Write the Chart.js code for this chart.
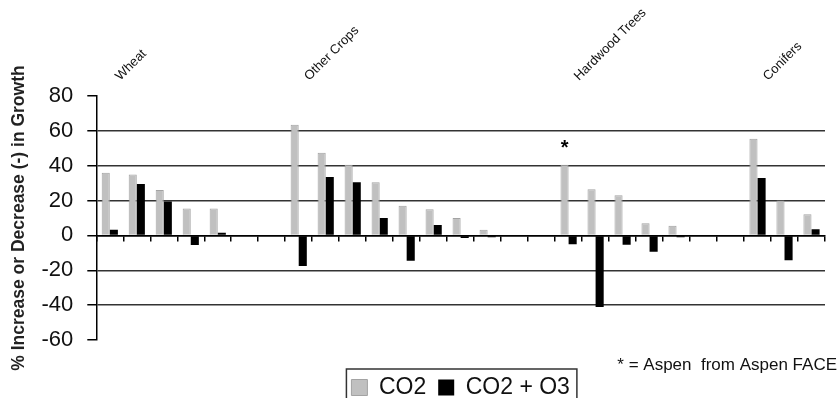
<!DOCTYPE html>
<html>
<head>
<meta charset="utf-8">
<script src="https://cdn.jsdelivr.net/npm/chart.js@4.4.1/dist/chart.umd.min.js"></script>
<style>
  html, body { margin: 0; padding: 0; background: #fff; }
  #wrap { width: 839px; height: 398px; }
</style>
</head>
<body>
<div id="wrap"><canvas id="growthChart" width="839" height="398"></canvas></div>
<script>
// one slot per study, gaps between the groups
const categories = [
    'Wheat 1', 'Wheat 2', 'Wheat 3', 'Wheat 4', 'Wheat 5', '', '',
    'Crop 1', 'Crop 2', 'Crop 3', 'Crop 4', 'Crop 5', 'Crop 6', 'Crop 7', 'Crop 8', '', '',
    'Aspen', 'Hardwood 2', 'Hardwood 3', 'Hardwood 4', 'Hardwood 5', '', '',
    'Conifer 1', 'Conifer 2', 'Conifer 3'
];
const groupLabels = [
    'Wheat', '', '', '', '', '', '',
    'Other Crops', '', '', '', '', '', '', '', '', '',
    'Hardwood Trees', '', '', '', '', '', '',
    'Conifers', '', ''
];
const co2 = [36, 35, 26, 15.5, 15.5, null, null,
    63.5, 47.5, 40.5, 30.5, 17, 15, 10, 3.2, null, null,
    40.5, 26.5, 23, 7, 5.5, null, null,
    55.5, 20, 12.2];
const co2o3 = [3.3, 29.5, 19.5, -5.5, 1.5, null, null,
    -17.5, 33.5, 30.5, 10, -14.5, 6, -1.5, -1, null, null,
    -5, -41, -5.3, -9.3, -1, null, null,
    33, -14.2, 3.5];
const yTicks = [-60, -40, -20, 0, 20, 40, 60, 80];
const starred = ['Aspen'];
const footnote = '* = Aspen  from Aspen FACE';

const FONT = 'Arial, "Liberation Sans", sans-serif';

// asterisk over the starred bar, footnote, and the frame round the legend
const extras = {
    id: 'extras',
    afterDraw(chart) {
        const ctx = chart.ctx;
        ctx.save();
        const meta = chart.getDatasetMeta(0);
        ctx.fillStyle = '#000';
        ctx.font = 'bold 20px ' + FONT;
        ctx.textAlign = 'center';
        ctx.textBaseline = 'middle';
        starred.forEach(name => {
            const bar = meta.data[categories.indexOf(name)];
            if (bar) ctx.fillText('*', bar.x, bar.y - 16);
        });

        ctx.font = '17px ' + FONT;
        ctx.textAlign = 'right';
        ctx.fillStyle = '#111';
        ctx.fillText(footnote, chart.width - 2, 365);

        const boxes = chart.legend.legendHitBoxes;
        if (boxes && boxes.length) {
            const first = boxes[0], last = boxes[boxes.length - 1];
            ctx.strokeStyle = '#333';
            ctx.lineWidth = 1.5;
            ctx.strokeRect(first.left - 5, first.top - 7, last.left + last.width - first.left + 12, 60);
        }
        ctx.restore();
    }
};

new Chart(document.getElementById('growthChart'), {
    type: 'bar',
    data: {
        labels: categories,
        datasets: [
            {
                label: 'CO2',
                data: co2,
                backgroundColor: '#c0c0c0',
                borderColor: '#a3a3a3',
                borderWidth: 1,
                categoryPercentage: 0.6,
                barPercentage: 1
            },
            {
                label: 'CO2 + O3',
                data: co2o3,
                backgroundColor: '#000',
                borderColor: '#000',
                borderWidth: 0,
                categoryPercentage: 0.6,
                barPercentage: 1
            }
        ]
    },
    options: {
        responsive: false,
        animation: false,
        layout: { padding: { left: 10, right: 14, top: 0, bottom: -11 } },
        plugins: {
            tooltip: { enabled: false },
            legend: {
                position: 'bottom',
                fullSize: false,
                labels: {
                    font: { family: FONT, size: 23 },
                    color: '#111',
                    boxWidth: 16,
                    boxHeight: 16,
                    padding: 12
                }
            }
        },
        scales: {
            x: {
                position: { y: 0 },
                offset: true,
                grid: { offset: true, drawOnChartArea: false, tickLength: 5, color: '#000', lineWidth: 1.5 },
                border: { display: true, color: '#000', width: 1.5 },
                ticks: { display: false }
            },
            top: {
                type: 'category',
                labels: groupLabels,
                position: 'top',
                offset: true,
                afterFit: axis => { axis.height = 96; },
                grid: { display: false },
                border: { display: false },
                ticks: {
                    autoSkip: false,
                    minRotation: 45,
                    maxRotation: 45,
                    padding: 4,
                    labelOffset: 19,
                    color: '#111',
                    font: { family: FONT, size: 13 }
                }
            },
            gap: {
                type: 'category',
                labels: groupLabels,
                position: 'bottom',
                afterFit: axis => { axis.height = 24; },
                grid: { display: false },
                border: { display: false },
                ticks: { display: false }
            },
            y: {
                min: yTicks[0],
                max: yTicks[yTicks.length - 1],
                afterBuildTicks: axis => { axis.ticks = yTicks.map(v => ({ value: v })); },
                grid: {
                    color: c => (c.tick.value === 80 || c.tick.value === -60) ? 'rgba(0,0,0,0)' : (c.tick.value === 0 ? '#000' : '#333'),
                    tickColor: '#000',
                    lineWidth: 1.5,
                    tickLength: 9
                },
                border: { display: true, color: '#000', width: 1.5 },
                ticks: {
                    padding: 14,
                    color: '#111',
                    font: { family: FONT, size: 22 }
                },
                title: {
                    display: true,
                    text: '% Increase or Decrease (-) in Growth',
                    color: '#222',
                    font: { family: FONT, size: 17.5, weight: 'bold', lineHeight: 1 },
                    padding: { top: 0, bottom: 0 }
                }
            }
        }
    },
    plugins: [extras]
});
</script>
</body>
</html>
